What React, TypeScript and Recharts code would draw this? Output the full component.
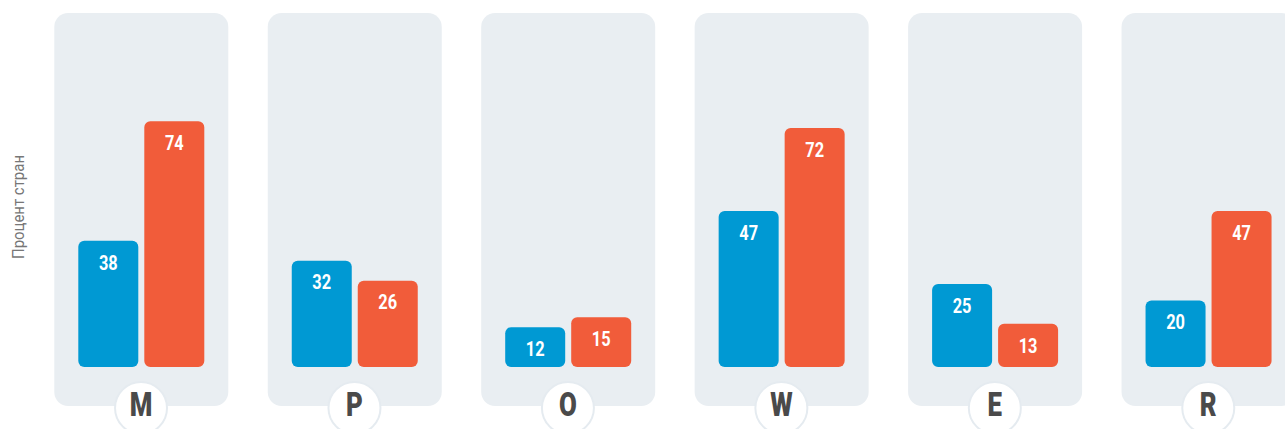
import React from 'react';
import { BarChart, Bar, XAxis, YAxis, LabelList } from 'recharts';

const categories = ['M', 'P', 'O', 'W', 'E', 'R'];
const blueValues = [38, 32, 12, 47, 25, 20];
const orangeValues = [74, 26, 15, 72, 13, 47];
const yLabel = 'Процент стран';

const data = categories.map((name, i) => ({ name, blue: blueValues[i], orange: orangeValues[i] }));

const BLUE = '#0099d3';
const ORANGE = '#f15c3a';
const PANEL = '#e9eef2';
const FONT = 'Roboto, "Noto Sans", sans-serif';

const Panel = (props: any) => {
  const { x, y, height } = props;
  return <rect x={x - 24} y={y - 22} width={174} height={height + 61} rx={14} ry={14} fill={PANEL} />;
};

// narrow text to mimic the condensed face of the original
const NarrowText = ({ x, y, sx, children, ...rest }: any) => (
  <text
    x={0}
    y={0}
    transform={`translate(${x} ${y}) scale(${sx} 1)`}
    textAnchor="middle"
    dominantBaseline="central"
    fontFamily={FONT}
    {...rest}
  >
    {children}
  </text>
);

const ValueLabel = (props: any) => {
  const { x, y, width, value } = props;
  return (
    <NarrowText x={x + width / 2} y={y + 22} sx={0.78} fill="#fff" fontWeight={700} fontSize={21}>
      {value}
    </NarrowText>
  );
};

const CircleTick = (props: any) => {
  const { x, y, payload } = props;
  return (
    <g>
      <circle cx={x} cy={y + 41} r={26} fill="#fff" stroke="#e5ebf0" strokeWidth={2} />
      <NarrowText x={x} y={y + 37} sx={0.76} fill="#4a4a4a" fontWeight={900} fontSize={34}>
        {payload.value}
      </NarrowText>
    </g>
  );
};

const AxisTitle = (props: any) => {
  const { viewBox } = props;
  const cx = 18;
  const cy = viewBox.y + viewBox.height / 2 + 6;
  return (
    <g transform={`translate(${cx} ${cy}) rotate(-90) scale(0.88 1)`}>
      <text
        x={0}
        y={0}
        textAnchor="middle"
        dominantBaseline="central"
        fill="#777"
        fontFamily={FONT}
        fontWeight={400}
        fontSize={17}
      >
        {yLabel}
      </text>
    </g>
  );
};

export default function App() {
  return (
    <div style={{ position: 'fixed', left: 0, top: 0, width: 1285, height: 429, overflow: 'hidden', background: '#fff' }}>
      <BarChart
        width={1315}
        height={429}
        data={data}
        margin={{ top: 35, right: 0, bottom: 32, left: 0 }}
        barSize={60}
        barGap={6}
      >
        <XAxis
          dataKey="name"
          axisLine={false}
          tickLine={false}
          tickSize={0}
          tickMargin={0}
          height={30}
          interval={0}
          tick={<CircleTick />}
        />
        <YAxis
          width={34.3}
          domain={[0, 100]}
          tick={false}
          axisLine={false}
          tickLine={false}
          label={{ content: <AxisTitle /> }}
        />
        <Bar dataKey="blue" fill={BLUE} radius={6} background={<Panel />} isAnimationActive={false}>
          <LabelList dataKey="blue" content={<ValueLabel />} />
        </Bar>
        <Bar dataKey="orange" fill={ORANGE} radius={6} isAnimationActive={false}>
          <LabelList dataKey="orange" content={<ValueLabel />} />
        </Bar>
      </BarChart>
    </div>
  );
}
